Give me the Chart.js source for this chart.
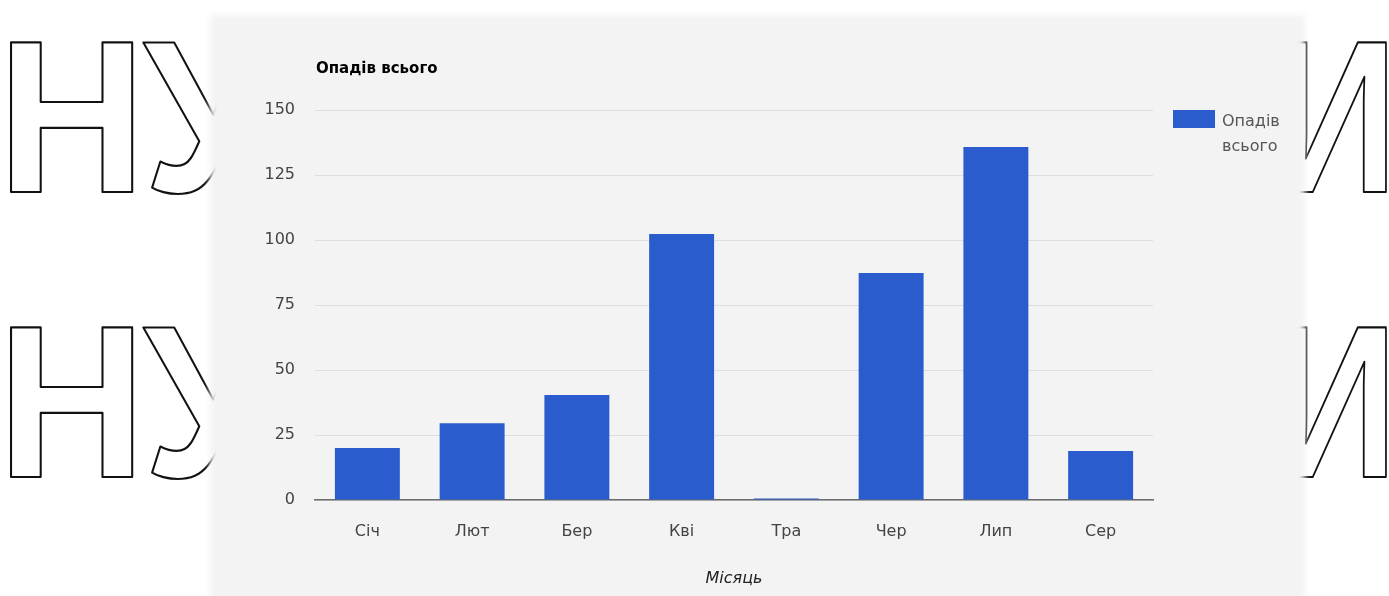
<!DOCTYPE html>
<html lang="uk">
<head>
<meta charset="utf-8">
<title>Опадів всього</title>
<script src="https://cdn.jsdelivr.net/npm/chart.js@4.4.0/dist/chart.umd.min.js"></script>
<style>
    html, body { margin: 0; padding: 0; background: #fff; overflow: hidden; }
    body { width: 1389px; height: 596px; position: relative; }
    #marks { position: absolute; left: 0; top: 0; z-index: 0; }
    #panel {
        position: absolute; left: 210px; top: 15px; width: 1095px; height: 610px;
        background: #f3f3f3; filter: blur(3px); z-index: 1;
    }
    #chart { position: absolute; left: 0; top: 0; z-index: 2; }
</style>
</head>
<body>
<svg id="marks" width="1389" height="596">
    <g font-family="Liberation Sans, Arial, sans-serif" font-weight="bold" font-size="217"
       fill="none" stroke="#111" stroke-width="2.2" stroke-linejoin="round">
        <g transform="scale(0.95,1)" letter-spacing="-3">
            <text x="-3" y="192">НУ</text>
            <text x="-3" y="477">НУ</text>
        </g>
        <g transform="scale(0.8,1)">
            <text x="1591" y="192">И</text>
            <text x="1591" y="477">И</text>
        </g>
    </g>
</svg>
<div id="panel"></div>
<canvas id="chart" width="1389" height="596"></canvas>
<script>
const CHART_TITLE = 'Опадів всього';
const AXIS_TITLE = 'Місяць';
const MONTHS = ['Січ', 'Лют', 'Бер', 'Кві', 'Тра', 'Чер', 'Лип', 'Сер'];
const RAINFALL = [20, 29.5, 40.4, 102.3, 0.6, 87.3, 135.8, 18.8];
const Y_TICKS = [0, 25, 50, 75, 100, 125, 150];

const BAR_COLOR = '#2b5ccd';
const FONT = 'DejaVu Sans, Arial, sans-serif';

// title top-left of the plot and a wrapped legend on the right, google-charts style
const decorPlugin = {
    id: 'decor',
    afterDraw: (chart) => {
        const { ctx, chartArea } = chart;
        ctx.save();
        ctx.textBaseline = 'alphabetic';
        ctx.textAlign = 'left';

        ctx.fillStyle = '#000';
        ctx.font = `bold 15px ${FONT}`;
        ctx.fillText(CHART_TITLE, chartArea.left + 1, 73);

        const ds = chart.data.datasets[0];
        const boxX = chartArea.right + 20;
        ctx.fillStyle = ds.backgroundColor;
        ctx.fillRect(boxX, 110, 42, 18);

        ctx.fillStyle = '#555';
        ctx.font = `16px ${FONT}`;
        ds.label.split(' ').forEach((word, i) => {
            ctx.fillText(word, boxX + 49, 126 + i * 25);
        });
        ctx.restore();
    },
};

new Chart(document.getElementById('chart'), {
    type: 'bar',
    data: {
        labels: MONTHS,
        datasets: [
            {
                label: CHART_TITLE,
                data: RAINFALL,
                backgroundColor: BAR_COLOR,
                borderWidth: 0,
                categoryPercentage: 1,
                barPercentage: 0.62,
            },
        ],
    },
    options: {
        responsive: false,
        devicePixelRatio: 1,
        animation: false,
        layout: { padding: { left: 210, right: 236, top: 110, bottom: 0 } },
        scales: {
            x: {
                afterFit: (scale) => { scale.height = 96; },
                ticks: { color: '#444', padding: 14, font: { family: FONT, size: 16 } },
                grid: { display: false },
                border: { display: true, color: '#6b6b6b', width: 1.5 },
                title: {
                    display: true,
                    text: AXIS_TITLE,
                    color: '#222',
                    padding: { top: 0, bottom: 8 },
                    font: { family: FONT, size: 16, style: 'italic' },
                },
            },
            y: {
                min: 0,
                max: 150,
                afterFit: (scale) => { scale.width = 105; },
                afterBuildTicks: (scale) => { scale.ticks = Y_TICKS.map((v) => ({ value: v })); },
                ticks: { color: '#444', padding: 20, font: { family: FONT, size: 16 } },
                grid: { color: '#dedede', lineWidth: 1, drawTicks: false },
                border: { display: false },
            },
        },
        plugins: {
            legend: { display: false },
            tooltip: { enabled: false },
        },
    },
    plugins: [decorPlugin],
});
</script>
</body>
</html>
